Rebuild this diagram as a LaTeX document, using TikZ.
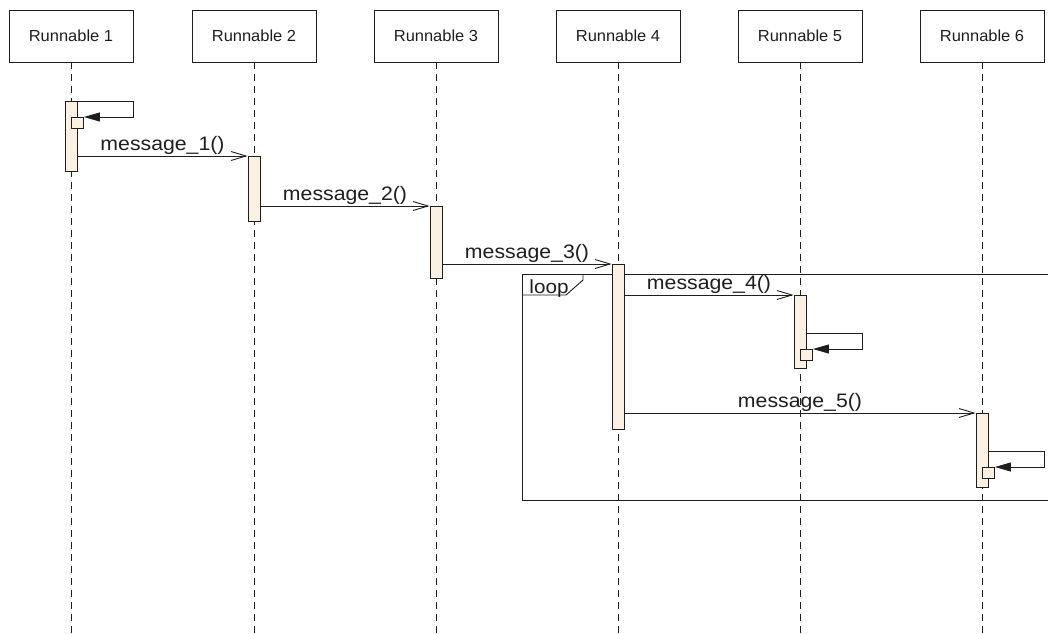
\documentclass[tikz,border=0pt]{standalone}
\usepackage{fontspec}
\setmainfont{Liberation Sans}
\newfontfamily\headfont[FakeStretch=1.03]{Liberation Sans}
\newfontfamily\msgfont[FakeStretch=1.09]{Liberation Sans}
\usetikzlibrary{arrows.meta}
\definecolor{barfill}{RGB}{251,241,226}
\definecolor{ink}{RGB}{30,30,30}

\begin{document}
\begin{tikzpicture}[
  x=1pt, y=-1pt,
  line width=0.9pt, color=ink,
  head/.style={draw, rectangle, minimum width=124pt, minimum height=52pt, inner sep=0pt,
    font=\headfont\fontsize{16}{19}\selectfont},
  life/.style={dash pattern=on 7pt off 5pt},
  bar/.style={draw, fill=barfill, minimum width=12pt, inner sep=0pt, anchor=north},
  sbox/.style={draw, fill=barfill, minimum width=12pt, minimum height=11pt, inner sep=0pt, anchor=north west},
  msg/.style={-{Straight Barb[length=15pt,width=9pt]}},
  msglabel/.style={above, inner sep=1pt, font=\msgfont\fontsize{19.5}{22}\selectfont},
  selfcall/.style={-{Triangle[length=16pt,width=9pt]}}
]
  \useasboundingbox (0,0) rectangle (1048,633);
  \foreach \i/\x in {1/71, 2/254, 3/436, 4/618, 5/800, 6/982} {
    \node[head] (r\i) at (\x,36) {Runnable \i};
    \coordinate (e\i) at (\x,633);
    \draw[life] (r\i.south) -- (e\i);
  }
  \draw (1048,274) -- (522,274) -- (522,500) -- (1048,500);
  \draw (522,295) -- (566,295) -- (583,280) -- (583,274);
  \node[anchor=base west, inner sep=0pt, font=\msgfont\fontsize{19}{22}\selectfont] (lp) at (529,293) {loop};
  \foreach \i/\x/\y/\h in {1/71/101/70, 2/254/156/65, 3/436/206/72, 4/618/264/165, 5/800/295/73, 6/982/413/74}
    \node[bar, minimum height=\h pt] (b\i) at (\x,\y) {};
  \foreach \i/\x/\y in {1/71/117, 5/800/349, 6/982/467} {
    \node[sbox] (s\i) at (\x,\y) {};
    \draw[selfcall] ([yshift=16pt]s\i.north -| b\i.east) -- ++(56,0) |- (s\i.north east);
  }
  \foreach \a/\b/\t in {1/2/1, 2/3/2, 3/4/3, 4/5/4, 4/6/5}
    \draw[msg] (b\a.east |- b\b.north) -- node[msglabel] {message\_\t()} (b\b.north west);
\end{tikzpicture}
\end{document}
